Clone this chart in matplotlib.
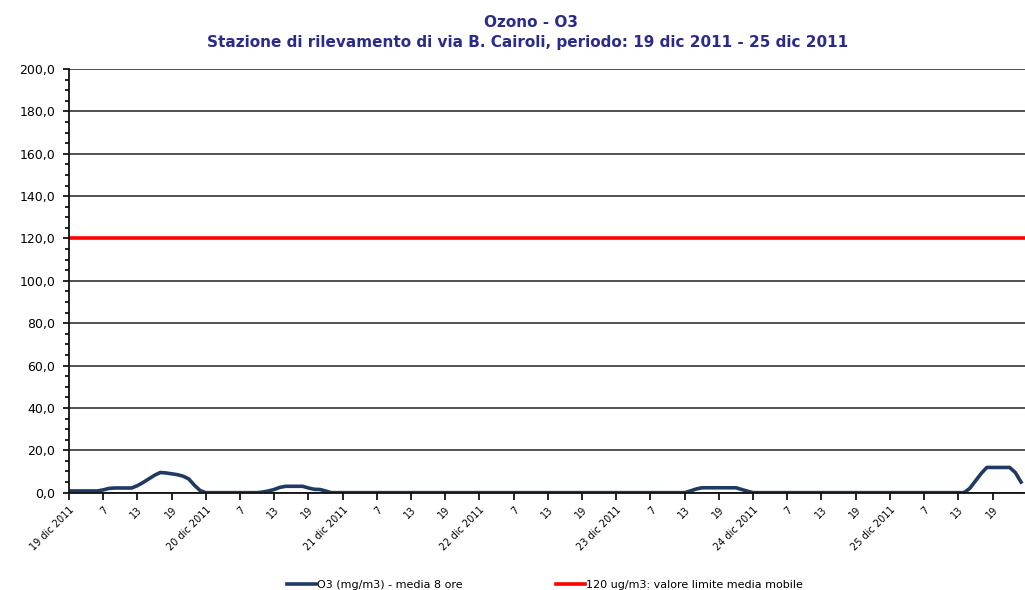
import numpy as np
import matplotlib.pyplot as plt
from matplotlib.ticker import MultipleLocator, FuncFormatter

# hourly 8-hour mean O3, 19 dic 2011 h1 .. 25 dic 2011 h24
day1 = [0.8, 0.8, 0.8, 0.8, 0.8, 0.8, 1.3, 2.0, 2.2, 2.2, 2.2, 2.2,
        3.3, 4.8, 6.5, 8.2, 9.5, 9.3, 8.9, 8.5, 7.8, 6.5, 3.5, 1.0]
day2 = [0, 0, 0, 0, 0, 0, 0, 0, 0, 0, 0.3, 0.8,
        1.5, 2.5, 3.0, 3.0, 3.0, 3.0, 2.2, 1.6, 1.5, 0.8, 0, 0]
day3 = [0] * 24
day4 = [0] * 24
day5 = [0, 0, 0, 0, 0, 0, 0, 0, 0, 0, 0, 0,
        0, 0.8, 1.7, 2.3, 2.3, 2.3, 2.3, 2.3, 2.3, 2.3, 1.5, 0.7]
day6 = [0] * 24
day7 = [0, 0, 0, 0, 0, 0, 0, 0, 0, 0, 0, 0,
        0, 0, 2.0, 5.5, 9.0, 11.9, 11.9, 11.9, 11.9, 11.9, 9.5, 5.0]
o3 = day1 + day2 + day3 + day4 + day5 + day6 + day7
limit = 120

days = ["19 dic 2011", "20 dic 2011", "21 dic 2011", "22 dic 2011",
        "23 dic 2011", "24 dic 2011", "25 dic 2011"]
hour_labels = ["7", "13", "19"]

hours = np.arange(len(o3))

fig = plt.figure(figsize=(10.25, 5.9), dpi=100)
ax = fig.add_axes([0.0673, 0.165, 0.9327, 0.718])

ax.plot(hours, o3, color="#1F3A63", lw=2.6, solid_joinstyle="round",
        label="O3 (mg/m3) - media 8 ore")
ax.plot([hours[0], hours[-1] + 1], [limit, limit], color="#FF0000", lw=2.6,
        label="120 ug/m3: valore limite media mobile")

ax.set_ylim(0, 200)
ax.set_xlim(0, 167.7)
ax.yaxis.set_major_locator(MultipleLocator(20))
ax.yaxis.set_minor_locator(MultipleLocator(5))
ax.yaxis.set_major_formatter(FuncFormatter(lambda v, p: f"{v:.1f}".replace(".", ",")))
ax.grid(axis="y", which="major", color="#222222", lw=1.1)
ax.set_axisbelow(True)

ticks = np.arange(0, 168, 6)
labels = []
for t in ticks:
    if t % 24 == 0:
        labels.append(days[t // 24])
    else:
        labels.append(hour_labels[(t % 24) // 6 - 1])
ax.set_xticks(ticks)
ax.set_xticklabels(labels, rotation=45, ha="right", rotation_mode="anchor",
                   fontsize=7)

ax.tick_params(axis="y", which="major", length=4, width=1.2, labelsize=9, pad=6)
ax.tick_params(axis="y", which="minor", length=3, width=1.2)
ax.tick_params(axis="x", length=5, width=1.2)

for s in ["top", "right"]:
    ax.spines[s].set_visible(False)
for s in ["left", "bottom"]:
    ax.spines[s].set_linewidth(1.3)
    ax.spines[s].set_color("#111111")

fig.text(0.518, 0.962, "Ozono - O3", ha="center", va="center",
         fontsize=11, fontweight="bold", color="#2B2B8C")
fig.text(0.515, 0.928, "Stazione di rilevamento di via B. Cairoli, periodo: 19 dic 2011 - 25 dic 2011",
         ha="center", va="center", fontsize=11, fontweight="bold", color="#2B2B8C")

fig.legend(loc="center", bbox_to_anchor=(0.532, 0.008), ncol=2, frameon=False,
           fontsize=8, handlelength=2.6, handletextpad=0.1, columnspacing=8.4)

fig.savefig("out.png", dpi=100)
